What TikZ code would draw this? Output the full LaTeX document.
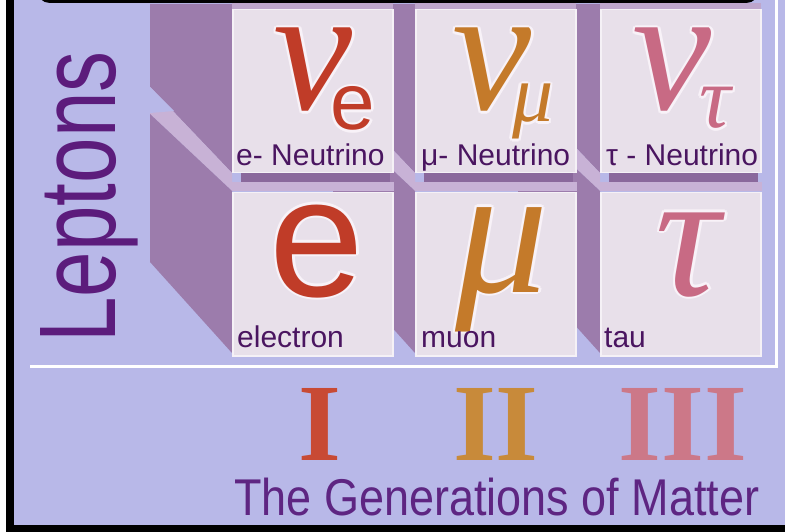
\documentclass[tikz,border=0pt]{standalone}
\usepackage{fontspec}
\setmainfont{Liberation Sans}
\newfontfamily\serifgr{Liberation Serif}
\newcommand\fs[1]{\fontsize{#1}{#1}\selectfont}
\definecolor{bg}{HTML}{B8B8E8}
\definecolor{wall}{HTML}{9C7CAC}
\definecolor{band}{HTML}{C8B2D6}
\definecolor{tilec}{HTML}{E8E0EA}
\definecolor{ledge}{HTML}{8A689C}
\definecolor{topstrip}{HTML}{BEA6CC}
\definecolor{labelc}{HTML}{4A1560}
\definecolor{lept}{HTML}{5C1C7C}
\definecolor{genc}{HTML}{5E2582}
\definecolor{colE}{HTML}{C03C28}
\definecolor{colM}{HTML}{C47A2A}
\definecolor{colT}{HTML}{C86A84}
\definecolor{romI}{HTML}{C84A34}
\definecolor{romII}{HTML}{C88A3A}
\definecolor{romIII}{HTML}{CC7888}
\definecolor{haloc}{HTML}{F8F2F8}
\newcommand\glyph[4]{%
  \foreach \dx/\dy in {-2.5/0,2.5/0,0/-2.5,0/2.5,-1.8/-1.8,1.8/1.8,-1.8/1.8,1.8/-1.8}
    \node[symb, text=haloc, xshift=\dx pt, yshift=\dy pt] at (#2) {#4};
  \node[symb, text=#3] (#1) at (#2) {#4};}
\begin{document}
\begin{tikzpicture}[x=1pt,y=-1pt,
  symb/.style={inner sep=0pt, anchor=base},
  tilebox/.style={draw=white!55!tilec, line width=1.5pt, fill=tilec, inner sep=0pt, anchor=north west, minimum width=160pt, minimum height=163pt},
  lbl/.style={inner sep=0pt, anchor=base west, text=labelc, font=\fs{30}}]
\useasboundingbox (0,0) rectangle (785,532);
\fill[bg] (0,0) rectangle (785,532);
% frame
\fill[white] (0,0) rectangle (6,532);
\fill[black] (6,0) rectangle (14,532);
\fill[black] (6,525) rectangle (785,532);
\begin{scope}
\clip (0,0) rectangle (785,532);
\draw[black, line width=3pt, fill=white, rounded corners=12pt] (38,-40) rectangle (758,1.5);
\end{scope}
% side walls
\foreach \F in {600,415,232}{
  \pgfmathsetmacro\B{\F-82}
  \fill[wall] (\B,4) -- (\F,4) -- (\F,173) -- (\B,87) -- cycle;
  \fill[band] (\B,87) -- (\F,173) -- (\F,191) -- (\B,114) -- cycle;
  \fill[wall] (\B,114) -- (\F,191) -- (\F,353) -- (\B,262) -- cycle;
}
\fill[bg] (150,87) -- (174,111) -- (150,113) -- cycle;
% ledges and top strips
\foreach \F in {232,415,600}{
  \fill[topstrip] (\F,3) rectangle (\F+161,9);
  \fill[band] (\F,182) rectangle (\F+162,191);
  \fill[ledge] (\F+9,173) rectangle (\F+158,182);
}
% tiles
\node[tilebox] (t1) at (232,9) {};
\node[tilebox] (t2) at (415,9) {};
\node[tilebox] (t3) at (600,9) {};
\node[tilebox] (t4) at (232,192) {};
\node[tilebox] (t5) at (415,192) {};
\node[tilebox] (t6) at (600,192) {};
% white rule
\draw[white, line width=3pt] (30,366.5) -- (776,366.5) -- (776,-2);
% symbols
\glyph{nue}{313,110}{colE}{\fs{178}\serifgr\itshape ν}
\glyph{nuesub}{353,130}{colE}{\fs{80}e}
\glyph{num}{492,110}{colM}{\fs{178}\serifgr\itshape ν}
\glyph{numsub}{533,122}{colM}{\fs{82}\serifgr\itshape μ}
\glyph{nut}{672,110}{colT}{\fs{178}\serifgr\itshape ν}
\glyph{nutsub}{715,128}{colT}{\fs{88}\serifgr\itshape τ}
\glyph{el}{317,296}{colE}{\fs{170}e}
\glyph{mu}{502,292}{colM}{\fs{185}\serifgr\itshape μ}
\glyph{tau}{688,295}{colT}{\fs{180}\serifgr\itshape τ}
% labels
\node[lbl] (l1) at (236,166) {e- Neutrino};
\node[lbl] (l2) at (421,166) {μ- Neutrino};
\node[lbl] (l3) at (606,166) {τ - Neutrino};
\node[lbl] (l4) at (237,347) {electron};
\node[lbl] (l5) at (421,347) {muon};
\node[lbl] (l6) at (604,347) {tau};
% Leptons
\node[rotate=90, anchor=base, inner sep=0pt, text=lept] (leptons) at (115,197) {\fs{109}\scalebox{0.75}[1]{Leptons}};
% generations
\node[symb, text=romI] (g1) at (320,460) {\fs{110}\serifgr\bfseries I};
\node[symb, text=romII] (g2) at (496,460) {\fs{110}\serifgr\bfseries II};
\node[symb, text=romIII] (g3) at (683,460) {\fs{110}\serifgr\bfseries III};
\node[inner sep=0pt, anchor=base west, text=genc] (gen) at (234,515) {\fs{51.7}\scalebox{0.87}[1]{The Generations of Matter}};
\end{tikzpicture}
\end{document}
